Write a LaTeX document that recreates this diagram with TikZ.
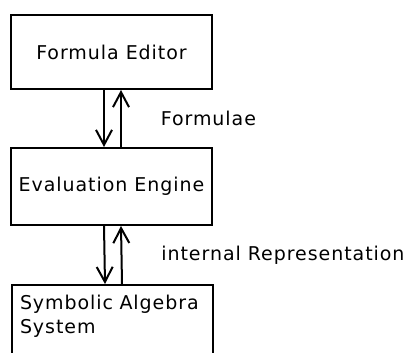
\documentclass[tikz,border=0pt]{standalone}
\usepackage{fontspec}
\setmainfont[LetterSpace=5]{DejaVu Sans}
\usetikzlibrary{positioning, arrows.meta}

\begin{document}
\begin{tikzpicture}[
    x=1pt, y=-1pt,
    font=\fontsize{19}{24}\selectfont,
    block/.style={draw, line width=2pt, minimum width=201pt},
    link/.style={line width=2pt, -{Straight Barb[length=15pt, width=16pt]}}
]
    \useasboundingbox (0,0) rectangle (412,353);
    % Three blocks stacked top to bottom,
    % the last one runs off the lower edge of the page.
    \node[block, minimum height=74pt] (editor) at (111.5,52) {Formula Editor};
    \node[block, minimum height=77pt] (engine) at (111.5,186.5) {Evaluation Engine};
    \node[block, anchor=north west, text width=185pt, align=left,
          inner xsep=8pt, inner ysep=10.5pt, text depth=60pt] (algebra) at (11,284)
          {Symbolic Algebra\\System};

    % one link down and one link up between each pair
    \draw[link] ([xshift=-7.5pt]editor.south) -- ([xshift=-7.5pt]engine.north);
    \draw[link] ([xshift=9.5pt]engine.north) -- node[right=35.5pt] (formulae) {Formulae} ([xshift=9.5pt]editor.south);
    \draw[link] ([xshift=-7.5pt]engine.south) -- ([xshift=-7.5pt]algebra.north);
    \draw[link] ([xshift=9.5pt]algebra.north) -- node[right=35.5pt] (intrep) {internal Representation} ([xshift=9.5pt]engine.south);
\end{tikzpicture}
\end{document}
